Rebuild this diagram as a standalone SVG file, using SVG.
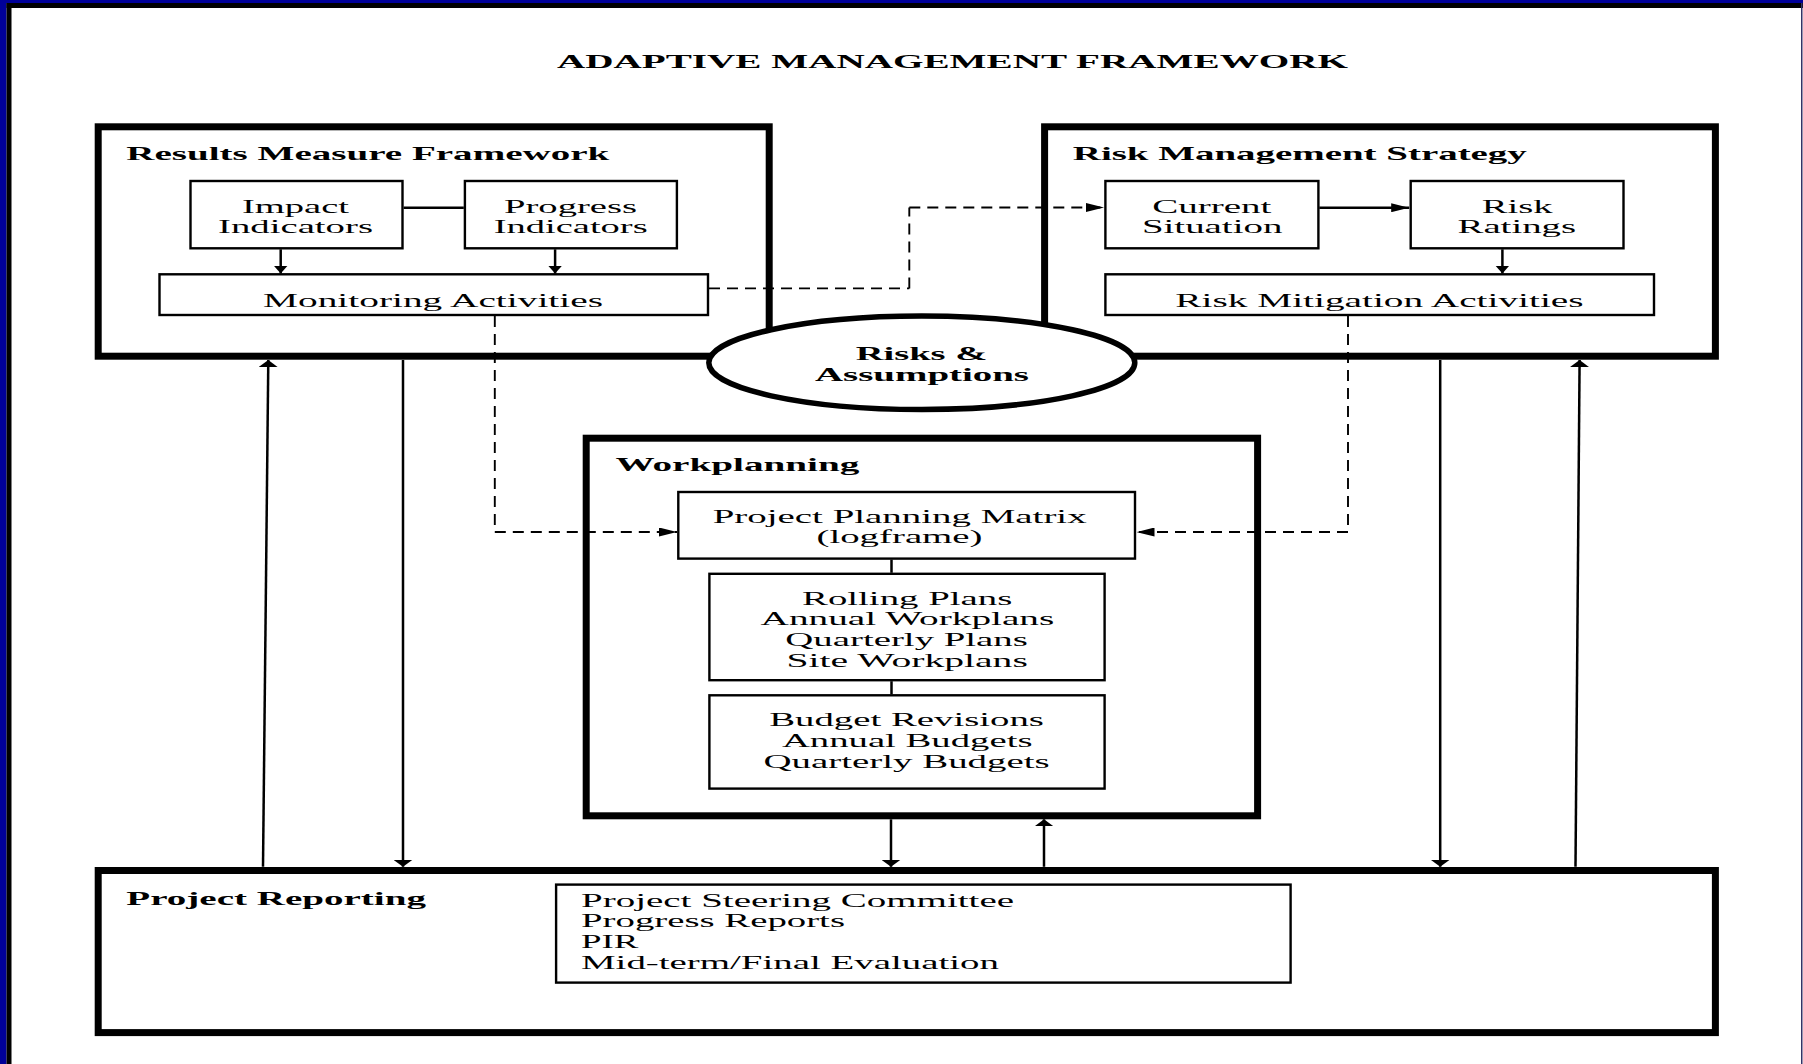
<svg xmlns="http://www.w3.org/2000/svg" width="1803" height="1064" viewBox="0 0 1803 1064">
<style>
text{font-family:"Liberation Serif","Times New Roman",serif;fill:#000}
.h{font-weight:bold;font-size:19.5px}
.b{font-size:18.5px}
.thick{fill:#fff;stroke:#000;stroke-width:7}
.thin{fill:#fff;stroke:#000;stroke-width:2.4}
.ln{fill:none;stroke:#000;stroke-width:2.5}
.dh{fill:none;stroke:#000;stroke-width:1.9;stroke-dasharray:11 7}
</style>
<defs>
<marker id="aS" markerUnits="userSpaceOnUse" viewBox="0 0 8 14" markerWidth="8" markerHeight="14" refX="8" refY="7" orient="auto"><path d="M0,0L8,7L0,14z"/></marker>
<marker id="aB" markerUnits="userSpaceOnUse" viewBox="0 0 7 19" markerWidth="7" markerHeight="19" refX="7" refY="9.5" orient="auto"><path d="M0,0L7,9.5L0,19z"/></marker>
<marker id="aH" markerUnits="userSpaceOnUse" viewBox="0 0 18 9" markerWidth="18" markerHeight="9" refX="18" refY="4.5" orient="auto"><path d="M0,0L18,4.5L0,9z"/></marker>
</defs>
<rect x="0" y="0" width="1803" height="1064" fill="#fff"/>
<g id="frame">
<rect x="0" y="0" width="6.5" height="1064" fill="#000099"/>
<rect x="0" y="0" width="1803" height="3" fill="#000099"/>
<rect x="6.5" y="3" width="5" height="1061" fill="#000"/>
<rect x="6.5" y="3" width="1796.5" height="5" fill="#000"/>
<rect x="1801" y="3" width="1.5" height="1061" fill="#333366"/>
</g>
<text id="title" class="h" x="557" y="67.7" textLength="791" lengthAdjust="spacingAndGlyphs">ADAPTIVE MANAGEMENT FRAMEWORK</text>

<g id="results-measure-framework">
<rect class="thick" x="98.2" y="126.8" width="671" height="229.4"/>
<text class="h" x="126.3" y="160" textLength="483" lengthAdjust="spacingAndGlyphs">Results Measure Framework</text>
</g>
<g id="impact-indicators">
<rect class="thin" x="190.5" y="181" width="212" height="67.3"/>
<text class="b" x="242" y="212.7" textLength="107" lengthAdjust="spacingAndGlyphs">Impact</text>
<text class="b" x="218" y="233.3" textLength="155" lengthAdjust="spacingAndGlyphs">Indicators</text>
</g>
<g id="progress-indicators">
<rect class="thin" x="464.9" y="181" width="212" height="67.3"/>
<text class="b" x="504" y="212.7" textLength="133" lengthAdjust="spacingAndGlyphs">Progress</text>
<text class="b" x="493.7" y="233.3" textLength="154" lengthAdjust="spacingAndGlyphs">Indicators</text>
</g>
<g id="monitoring-activities">
<rect class="thin" x="159.5" y="274.3" width="548.5" height="40.7"/>
<text class="b" x="263" y="306.7" textLength="340" lengthAdjust="spacingAndGlyphs">Monitoring Activities</text>
</g>

<g id="risk-management-strategy">
<rect class="thick" x="1044.6" y="126.8" width="670.8" height="229.4"/>
<text class="h" x="1072.8" y="160" textLength="454" lengthAdjust="spacingAndGlyphs">Risk Management Strategy</text>
</g>
<g id="current-situation">
<rect class="thin" x="1105.4" y="181" width="213" height="67.3"/>
<text class="b" x="1152.2" y="212.7" textLength="119.3" lengthAdjust="spacingAndGlyphs">Current</text>
<text class="b" x="1141.9" y="233.3" textLength="140.5" lengthAdjust="spacingAndGlyphs">Situation</text>
</g>
<g id="risk-ratings">
<rect class="thin" x="1410.7" y="181" width="212.8" height="67.3"/>
<text class="b" x="1481.7" y="212.7" textLength="70.8" lengthAdjust="spacingAndGlyphs">Risk</text>
<text class="b" x="1457.5" y="233.3" textLength="118.6" lengthAdjust="spacingAndGlyphs">Ratings</text>
</g>
<g id="risk-mitigation-activities">
<rect class="thin" x="1105.4" y="274.3" width="548.6" height="40.7"/>
<text class="b" x="1175.3" y="306.7" textLength="408.3" lengthAdjust="spacingAndGlyphs">Risk Mitigation Activities</text>
</g>

<g id="workplanning">
<rect class="thick" x="586.2" y="438.2" width="671.4" height="377.6"/>
<text class="h" x="615.4" y="471" textLength="244" lengthAdjust="spacingAndGlyphs">Workplanning</text>
</g>
<g id="project-planning-matrix">
<rect class="thin" x="678.3" y="492" width="456.7" height="66.6"/>
<text class="b" x="712.7" y="523.3" textLength="374" lengthAdjust="spacingAndGlyphs">Project Planning Matrix</text>
<text class="b" x="816.5" y="543" textLength="166" lengthAdjust="spacingAndGlyphs">(logframe)</text>
</g>
<g id="rolling-plans">
<rect class="thin" x="709.4" y="573.8" width="395.2" height="106.4"/>
<text class="b" x="802" y="604.5" textLength="210.3" lengthAdjust="spacingAndGlyphs">Rolling Plans</text>
<text class="b" x="760.6" y="625" textLength="293.7" lengthAdjust="spacingAndGlyphs">Annual Workplans</text>
<text class="b" x="785.3" y="645.7" textLength="242.6" lengthAdjust="spacingAndGlyphs">Quarterly Plans</text>
<text class="b" x="786.5" y="666.5" textLength="241.3" lengthAdjust="spacingAndGlyphs">Site Workplans</text>
</g>
<g id="budgets">
<rect class="thin" x="709.4" y="695.3" width="395.2" height="93.3"/>
<text class="b" x="769.2" y="726.3" textLength="274.8" lengthAdjust="spacingAndGlyphs">Budget Revisions</text>
<text class="b" x="781.9" y="747" textLength="250.6" lengthAdjust="spacingAndGlyphs">Annual Budgets</text>
<text class="b" x="763.5" y="767.8" textLength="286.2" lengthAdjust="spacingAndGlyphs">Quarterly Budgets</text>
</g>

<g id="project-reporting">
<rect class="thick" x="98.2" y="870.5" width="1617.2" height="162.1"/>
<text class="h" x="126.3" y="905" textLength="299.7" lengthAdjust="spacingAndGlyphs">Project Reporting</text>
</g>
<g id="reporting-items">
<rect class="thin" x="556.1" y="884.6" width="734.5" height="98"/>
<text class="b" x="581" y="906.9" textLength="433" lengthAdjust="spacingAndGlyphs">Project Steering Committee</text>
<text class="b" x="581" y="927.2" textLength="264" lengthAdjust="spacingAndGlyphs">Progress Reports</text>
<text class="b" x="581" y="947.5" textLength="57.4" lengthAdjust="spacingAndGlyphs">PIR</text>
<text class="b" x="581" y="968.5" textLength="418" lengthAdjust="spacingAndGlyphs">Mid-term/Final Evaluation</text>
</g>

<g id="connectors">
<line class="ln" x1="403.6" y1="207.7" x2="463.8" y2="207.7"/>
<line class="ln" x1="280.7" y1="249.3" x2="280.7" y2="273.6" marker-end="url(#aS)"/>
<line class="ln" x1="555.1" y1="249.3" x2="555.1" y2="273.6" marker-end="url(#aS)"/>
<line class="ln" x1="1319.3" y1="207.7" x2="1409.2" y2="207.7" marker-end="url(#aH)"/>
<line class="ln" x1="1502.4" y1="249.3" x2="1502.4" y2="273.6" marker-end="url(#aS)"/>
<line class="ln" x1="891.5" y1="559.6" x2="891.5" y2="572.8"/>
<line class="ln" x1="891.5" y1="681.2" x2="891.5" y2="694.3"/>
<path class="dh" d="M709,288.4H909.3"/>
<path class="dh" d="M909.3,288.4V207.5" stroke-dasharray="7 5"/>
<path class="dh" d="M909.3,207.5H1104" marker-end="url(#aH)"/>
<path class="dh" d="M494.8,316V532" stroke-dasharray="7 5"/>
<path class="dh" d="M494.8,532H677" marker-end="url(#aH)"/>
<path class="dh" d="M1348,316V532" stroke-dasharray="7 5"/>
<path class="dh" d="M1348,532H1136.5" marker-end="url(#aH)"/>
<line class="ln" x1="891" y1="819.3" x2="891" y2="866.8" marker-end="url(#aB)"/>
<line class="ln" x1="1044" y1="866.8" x2="1044" y2="819.3" marker-end="url(#aB)"/>
<line class="ln" x1="263" y1="866.8" x2="268.3" y2="360" marker-end="url(#aB)"/>
<line class="ln" x1="403" y1="360" x2="403" y2="866.8" marker-end="url(#aB)"/>
<line class="ln" x1="1440.2" y1="360" x2="1440.2" y2="866.8" marker-end="url(#aB)"/>
<line class="ln" x1="1575.5" y1="866.8" x2="1579.6" y2="360" marker-end="url(#aB)"/>
</g>

<g id="risks-assumptions">
<ellipse cx="921.8" cy="362.8" rx="213" ry="46.7" fill="#fff" stroke="#000" stroke-width="5.5"/>
<text class="h" x="855.7" y="360" textLength="131.6" lengthAdjust="spacingAndGlyphs">Risks &amp;</text>
<text class="h" x="815" y="380.7" textLength="214" lengthAdjust="spacingAndGlyphs">Assumptions</text>
</g>
</svg>
